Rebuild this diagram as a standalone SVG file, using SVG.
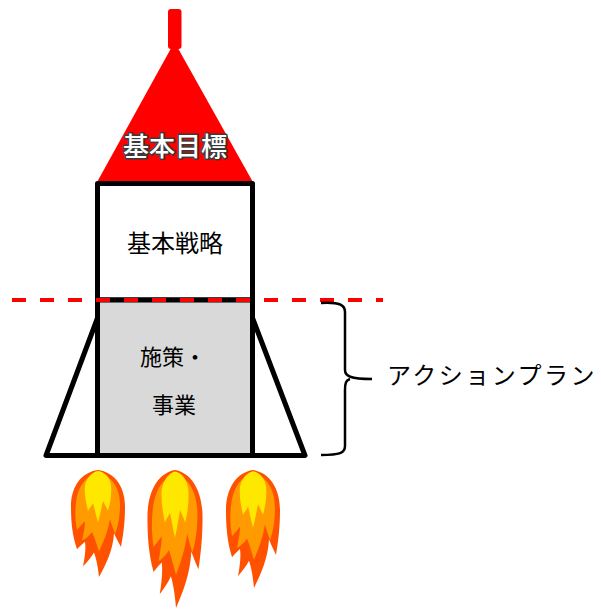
<svg xmlns="http://www.w3.org/2000/svg" width="601" height="610" viewBox="0 0 601 610">
  <style>
    .jp { font-family: "Noto Sans CJK JP", "Noto Sans", sans-serif; fill: #000; }
    .body { stroke: #000; stroke-width: 5; stroke-linejoin: round; }
    .outer { fill: #ff5200; }
    .mid { fill: #ff9a00; }
    .core { fill: #ffe800; }
  </style>
  <defs>
    <!-- one flame, top at (0,0), 100 units tall -->
    <g id="flame">
      <path class="outer" d="M0,0 C16,2 27,15 27,34 C27,50 25,62 23,72 C20,67 18,63 16,59 C15,75 8,88 1,100 C0,90 -2,82 -4,77 C-7,82 -11,86 -15,90 C-13,81 -12,73 -13,67 C-17,70 -19,72 -21,74 C-26,60 -27,48 -27,34 C-27,15 -16,2 0,0 Z"/>
      <path class="mid" d="M0,3 C13,5 22,16 22,32 C22,44 20,52 17,60 C15,54 13,50 12,46 C10,57 6,66 1,76 C-2,68 -4,62 -6,58 C-9,62 -12,64 -16,66 C-14,58 -13,52 -13,48 C-17,52 -19,54 -21,56 C-23,46 -23,38 -22,30 C-20,14 -11,5 0,3 Z"/>
      <path class="core" d="M0,1 C7,2 12,7 13,14 C14,23 12,32 10,38 C8,34 6,31 5,29 C3,37 2,43 0,49 C-2,43 -3,37 -5,31 C-6,33 -8,35 -10,38 C-12,30 -14,22 -13,14 C-11,7 -6,2 0,1 Z"/>
    </g>
  </defs>

  <rect width="601" height="610" fill="#fff"/>

  <!-- nose cone -->
  <g id="goal">
    <rect x="168" y="9" width="13.5" height="40" rx="3" fill="#ff0000"/>
    <polygon points="174.5,42 96,184 254,184" fill="#ff0000"/>
    <text x="175" y="156" text-anchor="middle" font-size="26" font-weight="500" class="jp" style="fill:#fff" stroke="#3a3a3a" stroke-width="3" paint-order="stroke" stroke-linejoin="round">基本目標</text>
  </g>

  <!-- side fins -->
  <g id="fins">
    <polygon class="body" points="97.5,318 46,455.5 97.5,455.5" fill="#fff"/>
    <polygon class="body" points="252.5,318 305,455.5 252.5,455.5" fill="#fff"/>
  </g>

  <!-- upper body -->
  <g id="strategy">
    <rect class="body" x="97.5" y="183.5" width="155" height="116.5" fill="#fff"/>
    <text x="175" y="252" text-anchor="middle" font-size="24" class="jp">基本戦略</text>
  </g>

  <!-- lower body -->
  <g id="measures">
    <rect class="body" x="97.5" y="300" width="155" height="155.5" fill="#d9d9d9"/>
    <text x="140" y="365" font-size="22" class="jp">施策・</text>
    <text x="152" y="413" font-size="22" class="jp">事業</text>
  </g>

  <!-- flames -->
  <g id="flames">
    <use href="#flame" transform="translate(98,470) scale(1,1.07)"/>
    <use href="#flame" transform="translate(175,470) scale(1.02,1.38)"/>
    <use href="#flame" transform="translate(253,470) scale(1,1.18)"/>
  </g>

  <!-- connectors: divider line and brace -->
  <g id="connectors" fill="none">
    <line x1="12" y1="300" x2="383" y2="300" stroke="#ff0000" stroke-width="4" stroke-dasharray="14 14"/>
    <path d="M321,303 C340,302 345,305 345,312 L345,370 C345,376 350,379 372,379 M350,379 C346,380 345,383 345,390 L345,446 C345,453 340,455 321,455" stroke="#000" stroke-width="2.5"/>
  </g>

  <g id="action-plan">
    <text x="387" y="384" font-size="24" letter-spacing="2.5" class="jp">アクションプラン</text>
  </g>
</svg>
